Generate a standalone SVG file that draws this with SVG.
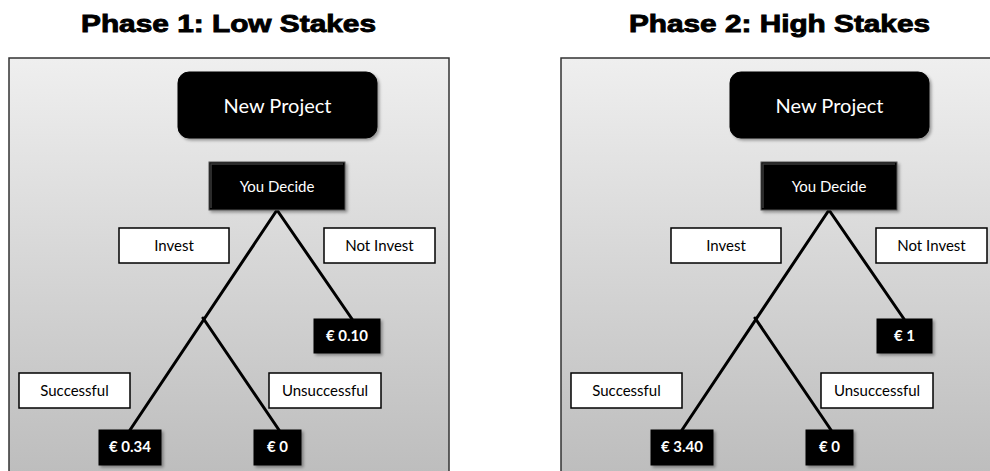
<svg xmlns="http://www.w3.org/2000/svg" width="990" height="471" viewBox="0 0 990 471">
<defs>
<linearGradient id="bg" x1="0" y1="0" x2="0" y2="1">
<stop offset="0" stop-color="#efefef"/>
<stop offset="1" stop-color="#bcbcbc"/>
</linearGradient>
<filter id="sh" x="-20%" y="-20%" width="150%" height="150%">
<feDropShadow dx="2" dy="2" stdDeviation="1.5" flood-color="#000" flood-opacity="0.35"/>
</filter>
</defs>
<style>
.title{font-family:"Liberation Sans",Arial,sans-serif;font-weight:900;font-size:24px;fill:#000;stroke:#000;stroke-width:0.9;text-anchor:middle}
.frame{fill:url(#bg);stroke:#333;stroke-width:1.5}
.np{fill:#050505;stroke:#000;stroke-width:1;filter:url(#sh)}
.dec{fill:#000;stroke:#555;stroke-width:1;filter:url(#sh)}
.bev{fill:none;stroke:#3a3a3a;stroke-width:1.5}
.val{fill:#000;stroke:#000;stroke-width:1;filter:url(#sh)}
.lab{fill:#fff;stroke:#000;stroke-width:1.5}
.wt{font-family:Lato,"Open Sans",sans-serif;fill:#fff;text-anchor:middle}
.bt{font-family:Lato,"Open Sans",sans-serif;fill:#000;text-anchor:middle;font-size:15px}
.vt{font-family:Lato,"Open Sans",sans-serif;fill:#fff;text-anchor:middle;font-size:15px;font-weight:bold}
.edge{stroke:#000;stroke-width:3;fill:none;stroke-linecap:round}
</style>

<text class="title" x="228.5" y="32" textLength="295" lengthAdjust="spacingAndGlyphs">Phase 1: Low Stakes</text>
<text class="title" x="779.5" y="32" textLength="301" lengthAdjust="spacingAndGlyphs">Phase 2: High Stakes</text>

<rect class="frame" x="9" y="58" width="440" height="425"/>
<rect class="frame" x="561" y="58" width="440" height="425"/>

<g id="connectors">
<line class="edge" x1="277" y1="210" x2="130" y2="430"/>
<line class="edge" x1="277" y1="210" x2="352" y2="319"/>
<line class="edge" x1="203" y1="318" x2="279" y2="430"/>
<line class="edge" x1="829" y1="210" x2="682" y2="430"/>
<line class="edge" x1="829" y1="210" x2="904" y2="319"/>
<line class="edge" x1="755" y1="318" x2="831" y2="430"/>
</g>

<g id="p1-newproject">
<rect class="np" x="178" y="72" width="199" height="66" rx="11"/>
<text class="wt" x="277.5" y="113" font-size="20">New Project</text>
</g>
<g id="p1-decide">
<rect class="dec" x="209" y="162" width="136" height="48"/>
<path class="bev" d="M211,208 L211,164 L343,164"/>
<text class="wt" x="277" y="192" font-size="15">You Decide</text>
</g>
<g id="p1-invest">
<rect class="lab" x="119" y="228" width="110" height="35"/>
<text class="bt" x="174" y="251">Invest</text>
</g>
<g id="p1-notinvest">
<rect class="lab" x="324" y="228" width="111" height="35"/>
<text class="bt" x="379.5" y="251">Not Invest</text>
</g>
<g id="p1-v010">
<rect class="val" x="314" y="319" width="66" height="34"/>
<text class="vt" x="347" y="341">€ 0.10</text>
</g>
<g id="p1-successful">
<rect class="lab" x="19" y="373" width="111" height="35"/>
<text class="bt" x="74.5" y="396">Successful</text>
</g>
<g id="p1-unsuccessful">
<rect class="lab" x="269" y="373" width="112" height="35"/>
<text class="bt" x="325" y="396">Unsuccessful</text>
</g>
<g id="p1-v034">
<rect class="val" x="99" y="430" width="62" height="35"/>
<text class="vt" x="130" y="452">€ 0.34</text>
</g>
<g id="p1-v0">
<rect class="val" x="254" y="430" width="47" height="35"/>
<text class="vt" x="277.5" y="452">€ 0</text>
</g>

<g id="p2-newproject">
<rect class="np" x="730" y="72" width="199" height="66" rx="11"/>
<text class="wt" x="829.5" y="113" font-size="20">New Project</text>
</g>
<g id="p2-decide">
<rect class="dec" x="761" y="162" width="136" height="48"/>
<path class="bev" d="M763,208 L763,164 L895,164"/>
<text class="wt" x="829" y="192" font-size="15">You Decide</text>
</g>
<g id="p2-invest">
<rect class="lab" x="671" y="228" width="110" height="35"/>
<text class="bt" x="726" y="251">Invest</text>
</g>
<g id="p2-notinvest">
<rect class="lab" x="876" y="228" width="111" height="35"/>
<text class="bt" x="931.5" y="251">Not Invest</text>
</g>
<g id="p2-v1">
<rect class="val" x="877" y="319" width="55" height="34"/>
<text class="vt" x="904.5" y="341">€ 1</text>
</g>
<g id="p2-successful">
<rect class="lab" x="571" y="373" width="111" height="35"/>
<text class="bt" x="626.5" y="396">Successful</text>
</g>
<g id="p2-unsuccessful">
<rect class="lab" x="821" y="373" width="112" height="35"/>
<text class="bt" x="877" y="396">Unsuccessful</text>
</g>
<g id="p2-v340">
<rect class="val" x="651" y="430" width="62" height="35"/>
<text class="vt" x="682" y="452">€ 3.40</text>
</g>
<g id="p2-v0">
<rect class="val" x="806" y="430" width="47" height="35"/>
<text class="vt" x="829.5" y="452">€ 0</text>
</g>
</svg>
